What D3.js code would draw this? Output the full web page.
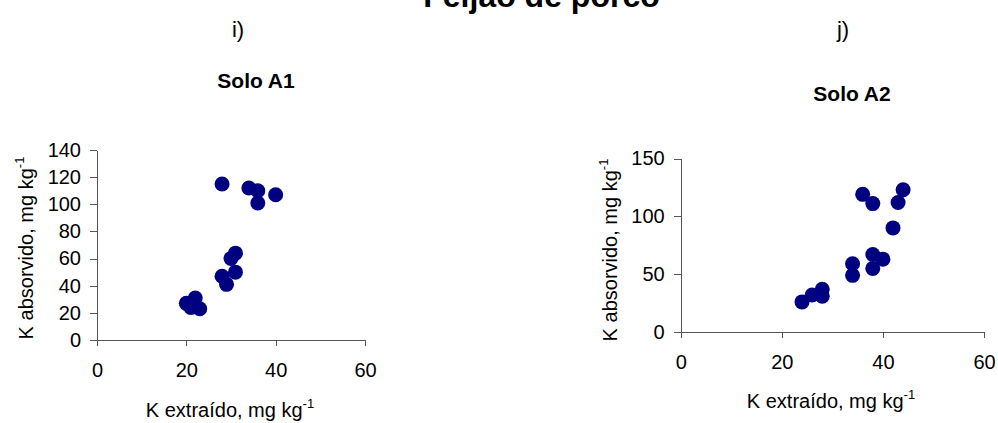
<!DOCTYPE html>
<html>
<head>
<meta charset="utf-8">
<script src="https://cdn.jsdelivr.net/npm/d3@7"></script>
<style>
  html, body { margin: 0; padding: 0; background: #fff; }
  svg { display: block; font-family: Arial, "Liberation Sans", sans-serif; }
</style>
</head>
<body>
<svg id="chart" width="998" height="423"></svg>
<script>
// Soil A1: extracted K vs absorbed K (mg/kg)
const soloA1Extraido   = [28, 34, 36, 36, 40, 31, 30, 31, 28, 29, 22, 20, 21, 23];
const soloA1Absorvido  = [115, 112, 110, 101, 107, 64, 60, 50, 47, 41, 31, 27, 24, 23];

// Soil A2
const soloA2Extraido   = [36, 38, 44, 43, 42, 38, 40, 38, 34, 34, 28, 28, 26, 24];
const soloA2Absorvido  = [119, 111, 123, 112, 90, 67, 63, 55, 59, 49, 37, 31, 32, 26];

// Tick labels
const xTicks   = [0, 20, 40, 60];
const yTicksA1 = [0, 20, 40, 60, 80, 100, 120, 140];
const yTicksA2 = [0, 50, 100, 150];

const mainTitle = "Feijão de porco";
const panelTags = ["i)", "j)"];
const panelTitles = ["Solo A1", "Solo A2"];
const xLabel = "K extraído, mg kg";
const yLabel = "K absorvido, mg kg";

const svg = d3.select("#chart");
const markerColor = "#000080";
const axisColor = "#555";

svg.append("text")
  .attr("x", 541.5).attr("y", 7)
  .attr("text-anchor", "middle")
  .attr("font-size", 32).attr("font-weight", "bold")
  .text(mainTitle);

const panels = [
  {
    tag: panelTags[0], title: panelTitles[0],
    xs: soloA1Extraido, ys: soloA1Absorvido, yTicks: yTicksA1, yMax: 140,
    x0: 97, x1: 365, y0: 340, y1: 150,
    tagX: 238, tagY: 37, titleX: 256, titleY: 88,
    yLabX: 33, yLabY: 248, xLabX: 230, xLabY: 417
  },
  {
    tag: panelTags[1], title: panelTitles[1],
    xs: soloA2Extraido, ys: soloA2Absorvido, yTicks: yTicksA2, yMax: 150,
    x0: 680.7, x1: 984, y0: 332, y1: 158.5,
    tagX: 843, tagY: 37, titleX: 852, titleY: 101,
    yLabX: 617, yLabY: 250, xLabX: 831, xLabY: 408
  }
];

panels.forEach(p => {
  const x = d3.scaleLinear().domain([0, 60]).range([p.x0, p.x1]);
  const y = d3.scaleLinear().domain([0, p.yMax]).range([p.y0, p.y1]);

  svg.append("text")
    .attr("x", p.tagX).attr("y", p.tagY)
    .attr("text-anchor", "middle").attr("font-size", 22)
    .text(p.tag);

  svg.append("text")
    .attr("x", p.titleX).attr("y", p.titleY)
    .attr("text-anchor", "middle").attr("font-size", 21).attr("font-weight", "bold")
    .text(p.title);

  const gx = svg.append("g")
    .attr("transform", `translate(0,${p.y0})`)
    .call(d3.axisBottom(x).tickValues(xTicks).tickSize(6).tickSizeOuter(0).tickPadding(17));
  const gy = svg.append("g")
    .attr("transform", `translate(${p.x0},0)`)
    .call(d3.axisLeft(y).tickValues(p.yTicks).tickSize(7).tickSizeOuter(0).tickPadding(9));

  [gx, gy].forEach(g => {
    g.selectAll("path, line").attr("stroke", axisColor).attr("shape-rendering", "crispEdges");
    g.selectAll("text").attr("font-size", 20).attr("fill", "#000")
      .attr("font-family", 'Arial, "Liberation Sans", sans-serif');
  });

  svg.append("g").selectAll("circle")
    .data(p.xs.map((v, i) => [v, p.ys[i]]))
    .join("circle")
    .attr("cx", d => x(d[0]))
    .attr("cy", d => y(d[1]))
    .attr("r", 7.5)
    .attr("fill", markerColor);

  // x-axis title with superscript exponent
  const xt = svg.append("text")
    .attr("x", p.xLabX).attr("y", p.xLabY)
    .attr("text-anchor", "middle").attr("font-size", 20);
  xt.append("tspan").text(xLabel);
  xt.append("tspan").attr("font-size", 13).attr("dy", -9).text("-1");

  // y-axis title, rotated
  const yt = svg.append("text")
    .attr("transform", `translate(${p.yLabX},${p.yLabY}) rotate(-90)`)
    .attr("text-anchor", "middle").attr("font-size", 20);
  yt.append("tspan").text(yLabel);
  yt.append("tspan").attr("font-size", 13).attr("dy", -9).text("-1");
});
</script>
</body>
</html>
